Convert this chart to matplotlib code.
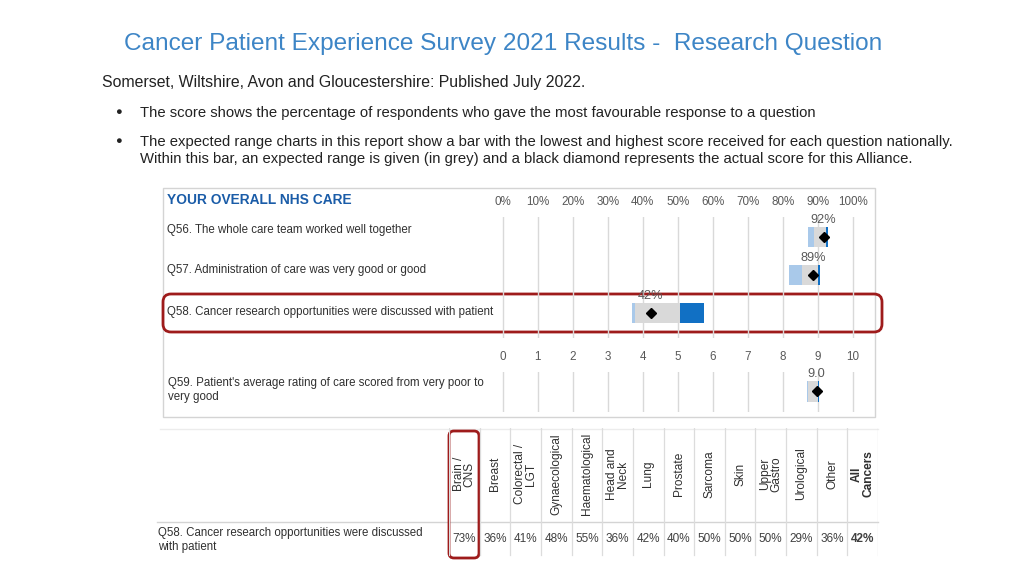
import matplotlib.pyplot as plt
import numpy as np
from matplotlib.patches import FancyBboxPatch, Rectangle

plt.rcParams['font.family'] = ['Liberation Sans', 'DejaVu Sans']

# ---------------------------------------------------------------------------
# data
# ---------------------------------------------------------------------------
pct_questions = ["Q56. The whole care team worked well together",
                 "Q57. Administration of care was very good or good",
                 "Q58. Cancer research opportunities were discussed with patient"]
pct_nat_min = [87.3, 81.9, 36.9]    # lowest national score
pct_exp_low = [89.0, 85.4, 37.8]    # expected range, lower bound
pct_exp_high = [92.4, 90.2, 50.7]   # expected range, upper bound
pct_nat_max = [92.9, 90.7, 57.5]    # highest national score
pct_score = [91.7, 88.7, 42.3]      # this Alliance
pct_ticks = list(range(0, 101, 10))

rating_question = "Q59. Patient's average rating of care scored from very poor to\nvery good"
rating_nat_min = [8.69]
rating_exp_low = [8.72]
rating_exp_high = [9.00]
rating_nat_max = [9.04]
rating_score = [8.97]
rating_ticks = list(range(0, 11))

cancer_types = ["Brain /\nCNS", "Breast", "Colorectal /\nLGT", "Gynaecological",
                "Haematological", "Head and\nNeck", "Lung", "Prostate", "Sarcoma",
                "Skin", "Upper\nGastro", "Urological", "Other", "All\nCancers"]
q58_by_type = [73, 36, 41, 48, 55, 36, 42, 40, 50, 50, 50, 29, 36, 42]

# colours
light_blue = '#a9c9ea'
grey_bar = '#d9d9d9'
dark_blue = '#1170c4'
grid_c = '#d9d9d9'
text_c = '#404040'
red_c = '#9e1b1b'

W, H = 1024, 576
fig = plt.figure(figsize=(W / 100, H / 100), dpi=100)


def px_axes(x0, y0, x1, y1):
    # add axes from pixel box (top-left origin)
    return fig.add_axes([x0 / W, 1 - y1 / H, (x1 - x0) / W, (y1 - y0) / H])


bg = px_axes(0, 0, W, H)
bg.set_xlim(0, W)
bg.set_ylim(H, 0)
bg.axis('off')

# ---------------------------------------------------------------------------
# slide text
# ---------------------------------------------------------------------------
bg.text(503, 44, "Cancer Patient Experience Survey 2021 Results -  Research Question",
        ha='center', va='center', fontsize=17.6, color='#3d85c6')
bg.text(102, 82, "Somerset, Wiltshire, Avon and Gloucestershire: Published July 2022.",
        ha='left', va='center', fontsize=11.4, color='#222222')
bg.text(118, 112, "\u25CF", ha='center', va='center', fontsize=8, color='#222222')
bg.text(140, 113, "The score shows the percentage of respondents who gave the most "
        "favourable response to a question", ha='left', va='center', fontsize=10.7, color='#222222')
bg.text(118, 141, "\u25CF", ha='center', va='center', fontsize=8, color='#222222')
bg.text(140, 150.5, "The expected range charts in this report show a bar with the lowest and "
        "highest score received for each question nationally.\nWithin this bar, an expected "
        "range is given (in grey) and a black diamond represents the actual score for this Alliance.",
        ha='left', va='center', fontsize=10.7, color='#222222', linespacing=1.2)

# chart panel frame
bg.add_patch(Rectangle((163, 188), 712, 229, fill=False, ec='#d4d4d4', lw=1))
bg.text(167, 200, "YOUR OVERALL NHS CARE", ha='left', va='center',
        fontsize=9.9, fontweight='bold', color='#1a5ca8')


def range_chart(ax, nat_min, exp_low, exp_high, nat_max, score, ticks, fmt):
    rows = np.arange(len(score))
    nat_min, exp_low = np.array(nat_min), np.array(exp_low)
    exp_high, nat_max = np.array(exp_high), np.array(nat_max)
    h = 0.53
    ax.barh(rows, exp_low - nat_min, left=nat_min, height=h, color=light_blue, zorder=2)
    ax.barh(rows, exp_high - exp_low, left=exp_low, height=h, color=grey_bar, zorder=2)
    ax.barh(rows, nat_max - exp_high, left=exp_high, height=h, color=dark_blue, zorder=2)
    ax.plot(score, rows, 'kD', markersize=5.2, zorder=3)
    for r, s in zip(rows, score):
        ax.text(s, r - h / 2 - 0.03, fmt(s), ha='center', va='bottom',
                fontsize=9.2, color='#595959')
    ax.set_xticks(ticks)
    ax.xaxis.tick_top()
    ax.tick_params(axis='x', length=0, pad=6.5, labelsize=8.4, labelcolor='#595959')
    ax.set_yticks([])
    ax.grid(axis='x', color=grid_c, lw=1, zorder=0)
    ax.set_axisbelow(True)
    for s in ax.spines.values():
        s.set_visible(False)
    ax.patch.set_alpha(0)


# percentage questions (0% at x=502.7, 100% at x=852.7)
ax1 = px_axes(485.2, 217, 870.2, 338)
range_chart(ax1, pct_nat_min, pct_exp_low, pct_exp_high, pct_nat_max, pct_score,
            pct_ticks, lambda v: f"{v:.0f}%")
ax1.set_xticklabels([f"{t}%" for t in pct_ticks])
ax1.set_xlim(-5, 105)
ax1.set_ylim(2.66, -0.53)
for i, q in enumerate(pct_questions):
    bg.text(167, 229.5 + i * 41, q, ha='left', va='center', fontsize=8.3, color='#303030')

# rating question (0 at x=502.7, 10 at x=852.7)
ax2 = px_axes(485.2, 372, 870.2, 412)
range_chart(ax2, rating_nat_min, rating_exp_low, rating_exp_high, rating_nat_max,
            rating_score, rating_ticks, lambda v: f"{v:.1f}")
ax2.set_xlim(-0.5, 10.5)
ax2.set_ylim(0.53, -0.5)
bg.text(168, 390, rating_question, ha='left', va='center', fontsize=8.3,
        color='#303030', linespacing=1.15)

# highlight Q58 row
bg.add_patch(FancyBboxPatch((163, 294), 719, 38, boxstyle="round,pad=0,rounding_size=8",
                            fill=False, ec=red_c, lw=2, zorder=5))

# ---------------------------------------------------------------------------
# cancer type table
# ---------------------------------------------------------------------------
n = len(cancer_types)
tab = px_axes(449, 428, 878, 558)
tab.set_xlim(-0.5, n - 0.5)
tab.set_ylim(130, 0)
tab.axis('off')
cols = np.arange(n)
for i, (name, v) in enumerate(zip(cancer_types, q58_by_type)):
    bold = 'bold' if i == n - 1 else 'normal'
    tab.text(cols[i], 46, name, rotation=90, ha='center', va='center',
             multialignment='center', fontsize=8.6, color='#303030',
             fontweight=bold, linespacing=0.9)
    tab.text(cols[i], 111, f"{v}%", ha='center', va='center', fontsize=8.5,
             color=text_c, fontweight=bold)
for b in np.arange(n + 1) - 0.5:
    tab.plot([b, b], [0, 127], color='#dcdcdc', lw=0.9)

bg.plot([160, 878], [428.5, 428.5], color='#ececec', lw=1)
bg.plot([157, 878], [521.5, 521.5], color='#d4d4d4', lw=1)
bg.text(158, 540, "Q58. Cancer research opportunities were discussed\nwith patient",
        ha='left', va='center', fontsize=8.3, color='#303030', linespacing=1.15)

# highlight Brain / CNS column
bg.add_patch(FancyBboxPatch((449, 431), 30, 127, boxstyle="round,pad=0,rounding_size=5",
                            fill=False, ec=red_c, lw=2, zorder=5))

fig.savefig('out.png', dpi=100)
